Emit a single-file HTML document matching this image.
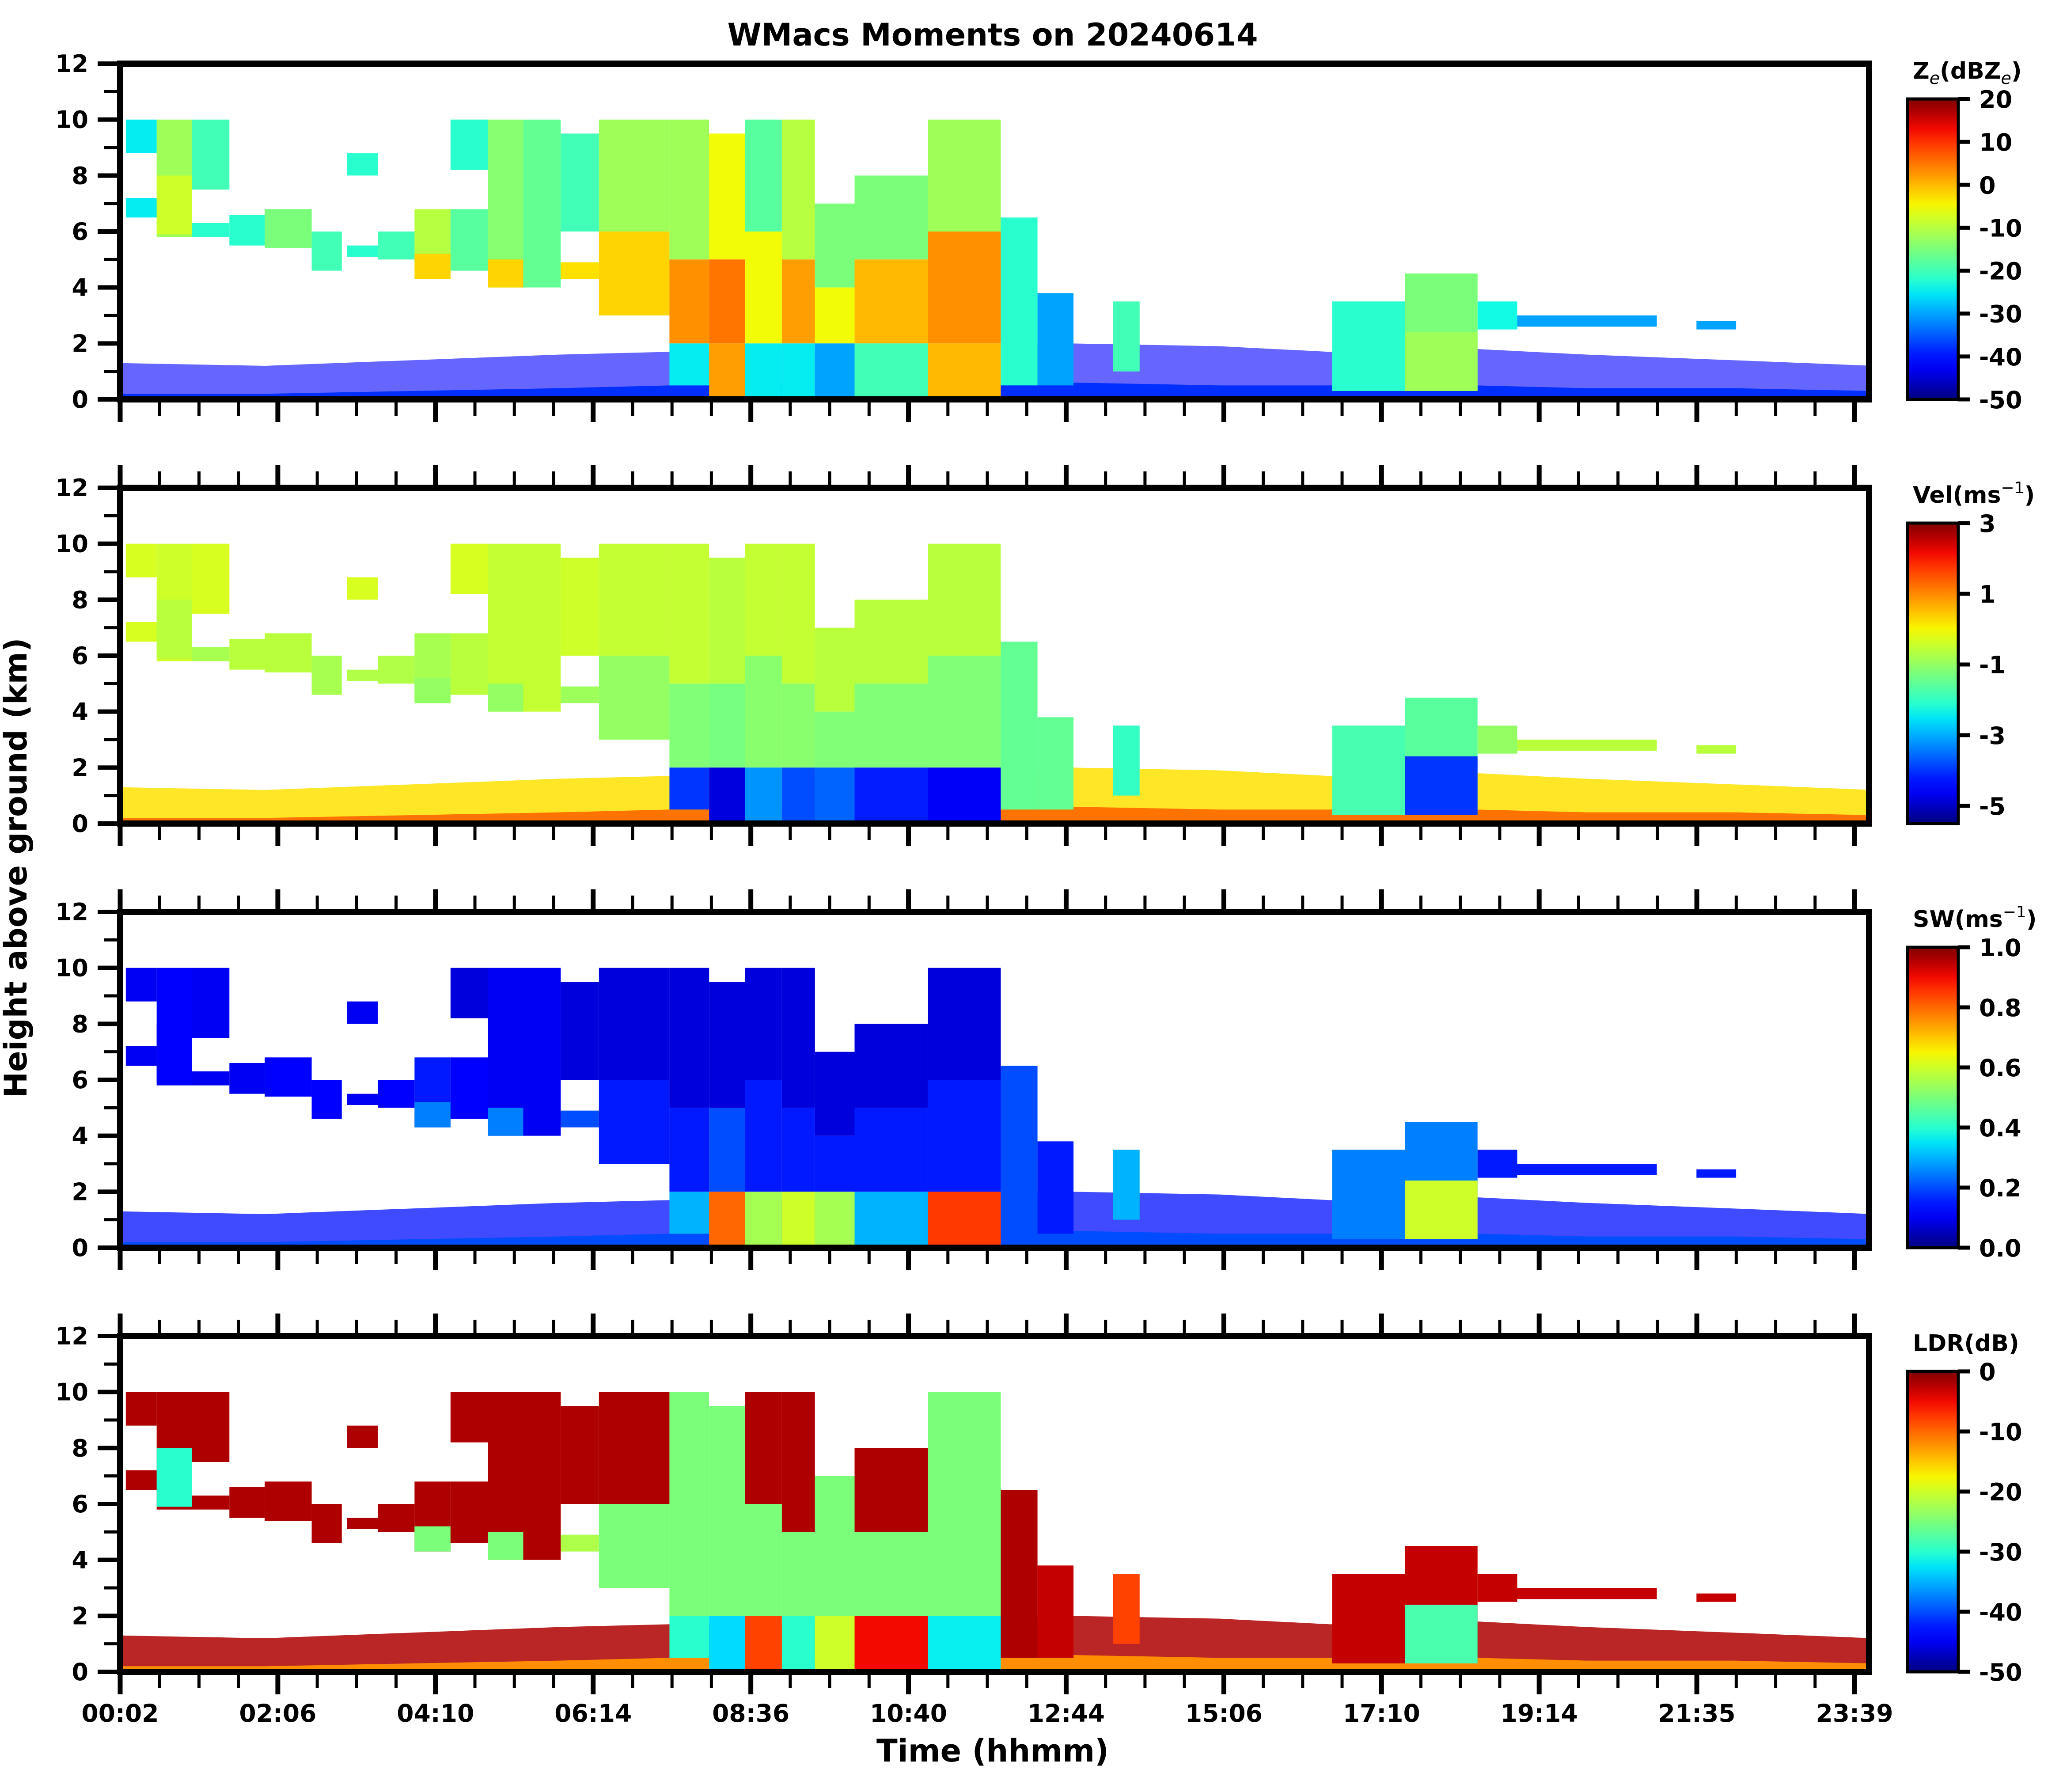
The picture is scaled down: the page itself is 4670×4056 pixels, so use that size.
<!DOCTYPE html>
<html><head><meta charset="utf-8"><title>WMacs Moments on 20240614</title>
<style>html,body{margin:0;padding:0;background:#fff}svg{display:block}text{font-family:"DejaVu Sans","Liberation Sans",sans-serif;font-weight:bold;fill:#000}</style>
</head><body>
<svg id="fig" xmlns="http://www.w3.org/2000/svg" width="4670" height="4056" viewBox="0 0 4670 4056">
<text x="2247" y="103" font-size="70" text-anchor="middle">WMacs Moments on 20240614</text>
<text x="2247" y="3987" font-size="70" text-anchor="middle">Time (hhmm)</text>
<text transform="translate(60,1964) rotate(-90)" font-size="70" text-anchor="middle">Height above ground (km)</text>
</svg>
<script>
// ---- data (time in hours, heights in km) ----
const segStart = [0.11,0.11,0.53,0.53,1.01,1.01,1.52,2.0,2.64,3.12,3.12,3.54,4.04,4.04,4.53,4.53,5.04,5.04,5.52,6.03,6.03,6.55,6.55,7.51,7.51,7.51,8.05,8.05,8.05,8.54,8.54,8.54,9.04,9.04,9.04,9.49,9.49,9.49,10.03,10.03,10.03,11.03,11.03,11.03,12.02,12.52,13.55,16.53,17.52,17.52,18.51,19.05,21.49];
const segEnd   = [0.53,0.53,1.01,1.01,1.52,1.52,2.0,2.64,3.05,3.54,3.54,4.04,4.53,4.53,5.04,5.04,5.52,5.52,6.03,6.55,6.55,7.51,7.51,8.05,8.05,8.05,8.54,8.54,8.54,9.04,9.04,9.04,9.49,9.49,9.49,10.03,10.03,10.03,11.03,11.03,11.03,12.02,12.02,12.02,12.52,13.01,13.91,17.52,18.51,18.51,19.05,20.95,22.03];
const segBase  = [8.8,6.5,5.8,5.9,7.5,5.8,5.5,5.4,4.6,5.1,8.0,5.0,4.3,4.3,4.6,8.2,4.0,4.0,4.0,4.3,6.0,6.0,3.0,5.0,2.0,0.5,5.0,2.0,0,6.0,2.0,0,5.0,2.0,0,4.0,2.0,0,5.0,2.0,0,6.0,2.0,0,0.5,0.5,1.0,0.3,0.3,0.3,2.5,2.6,2.5];
const segTop   = [10,7.2,10,8.0,10,6.3,6.6,6.8,6.0,5.5,8.8,6.0,6.8,5.2,6.8,10,10,5.0,10,4.9,9.5,10,6.0,10,5.0,2.0,9.5,5.0,2.0,10,6.0,2.0,10,5.0,2.0,7.0,4.0,2.0,8.0,5.0,2.0,10,6.0,2.0,6.5,3.8,3.5,3.5,4.5,2.4,3.5,3.0,2.8];
const zeVals   = [-25,-25,-12,-8,-20,-22,-22,-15,-20,-22,-22,-20,-10,-2,-18,-22,-14,-2,-17,-3,-20,-12,-2,-12,3,-25,-5,5,2,-18,-5,-25,-10,2,-25,-15,-5,-30,-15,0,-20,-12,3,0,-22,-30,-20,-22,-15,-12,-24,-30,-30];
const velVals  = [-0.3,-0.3,-0.4,-0.6,-0.3,-0.8,-0.6,-0.6,-0.8,-0.7,-0.3,-0.7,-0.8,-1.0,-0.6,-0.3,-0.5,-1.0,-0.5,-0.9,-0.4,-0.5,-1.0,-0.5,-1.2,-4.0,-0.6,-1.3,-4.8,-0.5,-1.1,-3.2,-0.5,-1.1,-3.8,-0.6,-1.2,-3.6,-0.6,-1.2,-4.2,-0.6,-1.2,-4.6,-1.5,-1.5,-2.0,-1.8,-1.6,-4.0,-1.0,-0.6,-0.6];
const swVals   = [0.1,0.1,0.12,0.12,0.1,0.1,0.1,0.12,0.12,0.1,0.1,0.12,0.15,0.25,0.12,0.08,0.1,0.25,0.1,0.2,0.08,0.08,0.15,0.08,0.15,0.3,0.08,0.2,0.8,0.08,0.15,0.55,0.08,0.15,0.6,0.08,0.15,0.55,0.08,0.15,0.3,0.08,0.15,0.85,0.2,0.15,0.3,0.25,0.25,0.6,0.15,0.15,0.15];
const ldrVals  = [-2,-2,-2,-30,-2,-2,-2,-2,-2,-2,-2,-2,-2,-25,-2,-2,-2,-25,-2,-22,-2,-2,-25,-25,-25,-30,-25,-25,-33,-2,-25,-8,-2,-25,-30,-25,-25,-20,-2,-25,-5,-25,-25,-32,-2,-3,-8,-3,-3,-28,-3,-3,-3];
// low-level clutter band
const clutTime = [0,2,4,6,7.5,10,12,13,15,16.5,18.5,20,22,23.9];
const clutTop  = [1.3,1.2,1.4,1.6,1.7,1.8,1.9,2.0,1.9,1.7,1.8,1.6,1.4,1.2];
const clutVals = {ze:-42, vel:0.2, sw:0.14, ldr:-2};
const groundTop = [0.2,0.2,0.3,0.4,0.5,0.5,0.5,0.6,0.5,0.5,0.5,0.4,0.4,0.3];
const groundVals = {ze:-38, vel:1.2, sw:0.2, ldr:-12};
// axis labels
const xTickLabels = ['00:02','02:06','04:10','06:14','08:36','10:40','12:44','15:06','17:10','19:14','21:35','23:39'];
const yTickLabels = [0,2,4,6,8,10,12];
const cbTitles = ['Z','Vel','SW','LDR'];
const cbMin = [-50,-5.5,0,-50];
const cbMax = [20,3,1,0];
const cbTicks = [[20,10,0,-10,-20,-30,-40,-50],[3,1,-1,-3,-5],[1.0,0.8,0.6,0.4,0.2,0.0],[0,-10,-20,-30,-40,-50]];
const cbTickText = [['20','10','0','-10','-20','-30','-40','-50'],['3','1','-1','-3','-5'],['1.0','0.8','0.6','0.4','0.2','0.0'],['0','-10','-20','-30','-40','-50']];
const moments = ['ze','vel','sw','ldr'];
const momentVals = [zeVals, velVals, swVals, ldrVals];
const clutOpacity = [0.6,0.85,0.75,0.85];

// ---- layout ----
const NS='http://www.w3.org/2000/svg';
const svg=document.getElementById('fig');
const X0=272, X1=4231, PH=760, tops=[144,1104,2064,3024];
function xs(t){return X0+(t-0.033)*166.3;}
function ys(km,p){return tops[p]+PH-km*PH/12;}
function jet(f){f=Math.max(0,Math.min(1,f));
 function pw(pts){for(let i=1;i<pts.length;i++){if(f<=pts[i][0]){const a=pts[i-1],b=pts[i];return a[1]+(b[1]-a[1])*(f-a[0])/(b[0]-a[0]);}}return pts[pts.length-1][1];}
 const r=pw([[0,0],[0.35,0],[0.66,1],[0.89,1],[1,0.5]]);
 const g=pw([[0,0],[0.125,0],[0.375,1],[0.64,1],[0.91,0],[1,0]]);
 const b=pw([[0,0.5],[0.11,1],[0.34,1],[0.65,0],[1,0]]);
 return 'rgb('+Math.round(r*255)+','+Math.round(g*255)+','+Math.round(b*255)+')';}
function mk(tag,attrs,parent){const e=document.createElementNS(NS,tag);for(const k in attrs)e.setAttribute(k,attrs[k]);(parent||svg).appendChild(e);return e;}
const defs=mk('defs',{});
const grad=mk('linearGradient',{id:'jetgrad',x1:'0',y1:'1',x2:'0',y2:'0'},defs);
for(let i=0;i<=20;i++){mk('stop',{offset:(i/20),'stop-color':jet(i/20)},grad);}

for(let p=0;p<4;p++){
 const top=tops[p], bot=top+PH;
 const cp=mk('clipPath',{id:'clip'+p},defs);
 mk('rect',{x:X0,y:top,width:X1-X0,height:PH},cp);
 const g=mk('g',{'clip-path':'url(#clip'+p+')'});
 
 
 const f=v=>(v-cbMin[p])/(cbMax[p]-cbMin[p]);
 // clutter band
 let d='M'+xs(clutTime[0])+','+ys(0,p);
 clutTime.forEach((t,i)=>{d+=' L'+xs(t)+','+ys(clutTop[i],p);});
 d+=' L'+xs(clutTime[clutTime.length-1])+','+ys(0,p)+' Z';
 const cl=mk('path',{d:d,fill:jet(f(clutVals[moments[p]])),'fill-opacity':clutOpacity[p]},g);
 
 
 let d2='M'+xs(clutTime[0])+','+ys(0,p);
 clutTime.forEach((t,i)=>{d2+=' L'+xs(t)+','+ys(groundTop[i],p);});
 d2+=' L'+xs(clutTime[clutTime.length-1])+','+ys(0,p)+' Z';
 const gl=mk('path',{d:d2,fill:jet(f(groundVals[moments[p]]))},g);
 
 
 // cloud segments
 const vals=momentVals[p];
 for(let i=0;i<segStart.length;i++){
  const r=mk('rect',{x:xs(segStart[i]),y:ys(segTop[i],p),width:xs(segEnd[i])-xs(segStart[i]),height:ys(segBase[i],p)-ys(segTop[i],p),fill:jet(f(vals[i]))},g);
  
  
 }
 // frame
 const fr=mk('rect',{x:X0,y:top,width:X1-X0,height:PH,fill:'none',stroke:'#000','stroke-width':14});
 
 
 // x ticks
 const step=(4198-X0)/11;
 for(let k=0;k<=44;k++){
  const x=X0+k*step/4; if(x>X1)break;
  const major=k%4===0, len=major?44:30, w=major?11:7;
  const tb=mk('line',{x1:x,y1:bot+7,x2:x,y2:bot+7+len,stroke:'#000','stroke-width':w});
  
  
  if(p>0){const tt=mk('line',{x1:x,y1:top-7,x2:x,y2:top-7-len,stroke:'#000','stroke-width':w});
   
   }
 }
 if(p===3){xTickLabels.forEach((lab,i)=>{
  const t=mk('text',{x:X0+i*step,y:3897,'font-size':55,'text-anchor':'middle'});t.textContent=lab;
  
  });}
 // y ticks
 for(let km=0;km<=12;km++){
  const y=ys(km,p), major=km%2===0;
  const l=mk('line',{x1:X0-7,y1:y,x2:X0-7-(major?44:30),y2:y,stroke:'#000','stroke-width':major?10:7});
  
  
 }
 yTickLabels.forEach(v=>{
  const t=mk('text',{x:200,y:ys(v,p)+19,'font-size':54,'text-anchor':'end'});t.textContent=String(v);
  
  });
 // colorbar
 const cbT=top+80, cbB=bot, cx0=4318, cx1=4433;
 const cb=mk('rect',{x:cx0,y:cbT,width:cx1-cx0,height:cbB-cbT,fill:'url(#jetgrad)',stroke:'#000','stroke-width':7});
 
 
 cbTicks[p].forEach((v,i)=>{
  const y=cbB-(v-cbMin[p])/(cbMax[p]-cbMin[p])*(cbB-cbT);
  const l=mk('line',{x1:cx1,y1:y,x2:cx1+26,y2:y,stroke:'#000','stroke-width':9});
  
  
  const t=mk('text',{x:4480,y:y+20,'font-size':54});t.textContent=cbTickText[p][i];
  
  
 });
 const ct=mk('text',{x:4330,y:top+34,'font-size':52});
 
 
 if(p===0){
  ct.innerHTML='Z<tspan font-style="italic" font-weight="normal" font-size="38" dy="12">e</tspan><tspan dy="-12">(dBZ</tspan><tspan font-style="italic" font-weight="normal" font-size="38" dy="12">e</tspan><tspan dy="-12">)</tspan>';
 } else if(p===3){ct.textContent='LDR(dB)';}
 else {ct.innerHTML=cbTitles[p]+'(ms<tspan font-weight="normal" font-size="36" dy="-22">\u22121</tspan><tspan dy="22">)</tspan>';}
}
</script>
</body></html>
